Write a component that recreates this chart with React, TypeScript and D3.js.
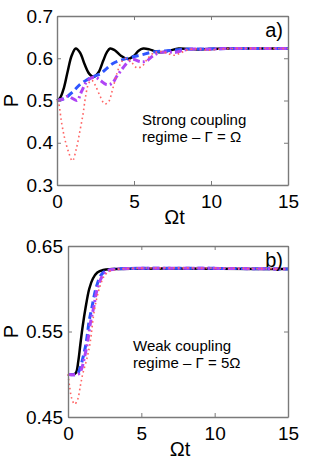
import React, { useEffect, useRef } from "react";
import * as d3 from "d3";

type Pt = [number, number];

// panel a) strong coupling, Gamma = Omega
const blackA: Pt[] = [[0,0.5],[0.2,0.506],[0.45,0.53],[0.7,0.57],[0.95,0.606],[1.22,0.623],[1.5,0.613],[1.8,0.585],[2.1,0.563],[2.38,0.556],[2.7,0.567],[3.0,0.594],[3.25,0.615],[3.45,0.623],[3.75,0.619],[4.15,0.606],[4.6,0.598],[5.0,0.606],[5.3,0.618],[5.6,0.623],[6.0,0.621],[6.4,0.616],[6.8,0.614],[7.3,0.618],[7.9,0.623],[8.5,0.622],[9.1,0.621],[9.8,0.622],[11,0.623],[15,0.623]];
const blueA: Pt[] = [[0,0.5],[0.5,0.505],[1.0,0.52],[1.5,0.538],[1.9,0.548],[2.4,0.557],[2.8,0.563],[3.2,0.575],[3.6,0.587],[4.0,0.594],[4.5,0.599],[5.0,0.604],[5.5,0.608],[6.0,0.613],[6.5,0.616],[7.0,0.617],[7.5,0.619],[8.0,0.621],[8.5,0.622],[9.5,0.622],[11,0.623],[15,0.623]];
const purpleA: Pt[] = [[0,0.5],[0.35,0.503],[0.7,0.51],[1.0,0.505],[1.3,0.5],[1.6,0.522],[1.9,0.543],[2.2,0.553],[2.5,0.555],[2.8,0.548],[3.2,0.538],[3.55,0.54],[3.9,0.558],[4.3,0.578],[4.7,0.594],[5.0,0.597],[5.4,0.592],[5.8,0.593],[6.2,0.605],[6.7,0.614],[7.2,0.615],[7.7,0.614],[8.2,0.619],[8.8,0.622],[9.5,0.621],[10.2,0.622],[11,0.623],[15,0.623]];
const redA: Pt[] = [[0,0.5],[0.1,0.494],[0.3,0.447],[0.5,0.41],[0.75,0.378],[1.0,0.357],[1.25,0.385],[1.5,0.43],[1.7,0.47],[1.85,0.508],[2.05,0.54],[2.25,0.548],[2.5,0.535],[2.8,0.51],[3.1,0.492],[3.35,0.497],[3.6,0.525],[3.9,0.565],[4.2,0.592],[4.5,0.6],[4.85,0.59],[5.2,0.577],[5.55,0.582],[5.9,0.6],[6.3,0.613],[6.8,0.616],[7.2,0.611],[7.6,0.607],[8.0,0.612],[8.5,0.62],[9.2,0.622],[9.8,0.619],[10.4,0.621],[11.2,0.623],[15,0.623]];

// panel b) weak coupling, Gamma = 5 Omega
const blackB: Pt[] = [[0,0.5],[0.4,0.5],[0.55,0.502],[0.7,0.515],[0.85,0.536],[1.0,0.556],[1.2,0.578],[1.45,0.6],[1.7,0.612],[2.0,0.619],[2.4,0.622],[3,0.623],[15,0.623]];
const blueB: Pt[] = [[0,0.5],[0.6,0.5],[0.8,0.506],[1.0,0.518],[1.23,0.536],[1.45,0.563],[1.62,0.577],[1.9,0.6],[2.25,0.616],[2.6,0.621],[3.2,0.623],[15,0.623]];
const purpleB: Pt[] = [[0,0.5],[0.7,0.5],[0.9,0.505],[1.1,0.518],[1.33,0.537],[1.55,0.562],[1.75,0.578],[2.0,0.6],[2.35,0.615],[2.7,0.621],[3.3,0.623],[15,0.623]];
const redB: Pt[] = [[0,0.5],[0.1,0.487],[0.25,0.472],[0.45,0.465],[0.65,0.47],[0.85,0.487],[1.0,0.5],[1.27,0.517],[1.5,0.536],[1.8,0.575],[2.13,0.6],[2.48,0.615],[2.8,0.62],[3.5,0.623],[15,0.623]];

const xTicks = [0, 5, 10, 15];
const yTicksA = [0.3, 0.4, 0.5, 0.6, 0.7];
const yTicksB = [0.45, 0.55, 0.65];

const FONT = "'Liberation Sans', Arial, Helvetica, sans-serif";

const styles = [
  { color: "#000000", width: 2.5, dash: null },
  { color: "#2f55ff", width: 3, dash: "7,4" },
  { color: "#b044f5", width: 3, dash: "7,3,2,3" },
  { color: "#ff6464", width: 1.6, dash: "1.6,3" },
];

function drawPanel(svg: any, o: any) {
  const x = d3.scaleLinear().domain([0, 15]).range([o.left, o.right]);
  const y = d3.scaleLinear().domain(o.yDomain).range([o.bottom, o.top]);
  const g = svg.append("g");

  const line = d3.line<Pt>()
    .x(d => x(d[0]))
    .y(d => y(d[1]))
    .curve(d3.curveCatmullRom.alpha(0.5));

  o.series.forEach((s: Pt[], i: number) => {
    const st = styles[i];
    const p = g.append("path")
      .attr("d", line(s))
      .attr("fill", "none")
      .attr("stroke", st.color)
      .attr("stroke-width", st.width);
    if (st.dash) p.attr("stroke-dasharray", st.dash);
  });

  const bottomAx = g.append("g").attr("transform", `translate(0,${o.bottom})`)
    .call(d3.axisBottom(x).tickValues(xTicks).tickSizeInner(-4).tickSizeOuter(0).tickPadding(9.5).tickFormat(d3.format("d")));
  const topAx = g.append("g").attr("transform", `translate(0,${o.top})`)
    .call(d3.axisTop(x).tickValues(xTicks).tickSizeInner(-4).tickSizeOuter(0).tickFormat(() => ""));
  const leftAx = g.append("g").attr("transform", `translate(${o.left},0)`)
    .call(d3.axisLeft(y).tickValues(o.yTicks).tickSizeInner(-4).tickSizeOuter(0).tickPadding(o.ypad).tickFormat(d3.format(o.fmt)));
  const rightAx = g.append("g").attr("transform", `translate(${o.right},0)`)
    .call(d3.axisRight(y).tickValues(o.yTicks).tickSizeInner(-4).tickSizeOuter(0).tickFormat(() => ""));

  [bottomAx, topAx, leftAx, rightAx].forEach(a => {
    a.select(".domain").attr("stroke", "#7a7a7a").attr("stroke-width", 1.4);
    a.selectAll(".tick line").attr("stroke", "#7a7a7a").attr("stroke-width", 1);
    a.selectAll("text").attr("font-family", FONT).attr("font-size", 19).attr("fill", "#000");
  });

  g.append("text")
    .attr("x", (o.left + o.right) / 2 + 2)
    .attr("y", o.bottom + 39)
    .attr("text-anchor", "middle")
    .attr("font-family", FONT).attr("font-size", 20)
    .text("\u03A9t");

  g.append("text")
    .attr("transform", `translate(18,${(o.top + o.bottom) / 2}) rotate(-90)`)
    .attr("text-anchor", "middle")
    .attr("font-family", FONT).attr("font-size", 20)
    .text("P");

  g.append("text")
    .attr("x", o.right - 5)
    .attr("y", o.top + o.tagDy)
    .attr("text-anchor", "end")
    .attr("font-family", FONT).attr("font-size", 20)
    .text(o.tag);

  o.note.forEach((t: string, i: number) => {
    g.append("text")
      .attr("x", o.noteX)
      .attr("y", o.noteY + i * 17)
      .attr("font-family", FONT).attr("font-size", 15)
      .text(t);
  });
}

export default function App() {
  const ref = useRef<SVGSVGElement>(null);

  useEffect(() => {
    const svg = d3.select(ref.current);
    svg.selectAll("*").remove();
    svg.append("rect").attr("width", 318).attr("height", 463).attr("fill", "#fff");

    drawPanel(svg, {
      left: 57, right: 288, top: 16, bottom: 185,
      yDomain: [0.3, 0.7], yTicks: yTicksA, fmt: ".1f", ypad: 4,
      series: [blackA, blueA, purpleA, redA],
      tag: "a)", tagDy: 21,
      note: ["Strong coupling", "regime \u2013 \u0393 = \u03A9"], noteX: 142, noteY: 125,
    });
    drawPanel(svg, {
      left: 68, right: 288, top: 246, bottom: 417,
      yDomain: [0.45, 0.65], yTicks: yTicksB, fmt: ".2f", ypad: 5,
      series: [blackB, blueB, purpleB, redB],
      tag: "b)", tagDy: 21,
      note: ["Weak coupling", "regime \u2013 \u0393 = 5\u03A9"], noteX: 133, noteY: 351,
    });
  }, []);

  return (
    <svg ref={ref} width={318} height={463}
      style={{ position: "absolute", left: 0, top: 0, display: "block" }} />
  );
}
